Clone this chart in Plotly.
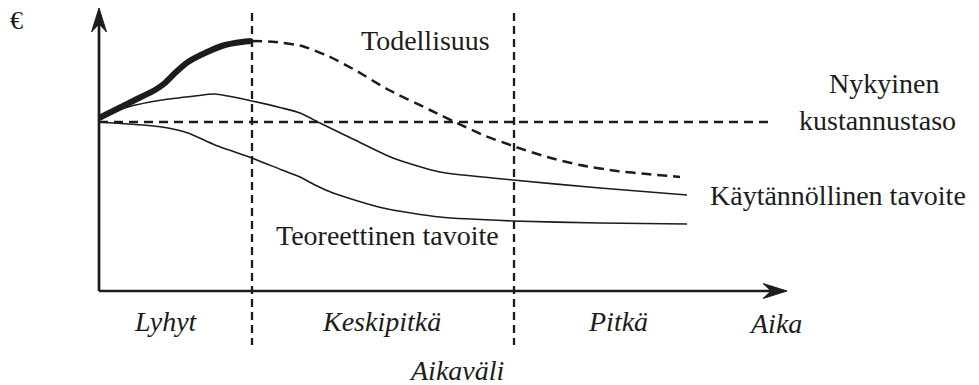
import plotly.graph_objects as go

# ---- data (x = time units from the origin, y = cost units above the time axis) ----
actual_solid_x = [0, 16, 36, 56, 66, 76, 89, 106, 126, 143, 153]
actual_solid_y = [173, 181, 191, 201, 208, 218, 229, 238, 246, 249, 250]

actual_dash_x = [153, 176, 203, 229, 256, 288, 331, 358, 384, 414, 448, 481, 518, 548, 581]
actual_dash_y = [250, 249, 245, 235, 221, 202, 181, 168, 156, 145, 134, 126, 120, 117, 114]

practical_x = [0, 29, 63, 96, 116, 153, 183, 201, 221, 256, 294, 341, 414, 501, 588]
practical_y = [173, 184, 191, 195, 197, 190, 183, 178, 168, 151, 133, 119, 111, 103, 96]

theoretical_x = [0, 29, 63, 89, 116, 153, 183, 201, 216, 234, 284, 341, 414, 501, 588]
theoretical_y = [169, 167, 164, 158, 146, 133, 121, 114, 106, 98, 83, 74, 70, 68, 67]

current_level_x = [0, 674]
current_level_y = [169, 169]

period_bounds = [153, 415]
period_top, period_bottom = 278, -54

x_axis_end = 688
y_axis_end = 283

period_labels = ["Lyhyt", "Keskipitkä", "Pitkä"]
period_label_x = [67, 282, 519]

INK = "#1c1c1c"
FONT = "Liberation Serif, Tinos, Times New Roman, serif"
FS = 28

fig = go.Figure()

# current cost level (horizontal dashed)
fig.add_trace(go.Scatter(x=current_level_x, y=current_level_y, mode="lines",
                         line=dict(color=INK, width=2.3, dash="9px,6px")))
# period boundaries
for xb in period_bounds:
    fig.add_trace(go.Scatter(x=[xb, xb], y=[period_top, period_bottom], mode="lines",
                             line=dict(color=INK, width=2.3, dash="8px,5px")))
# theoretical target
fig.add_trace(go.Scatter(x=theoretical_x, y=theoretical_y, mode="lines",
                         line=dict(color=INK, width=1.6, shape="spline", smoothing=0.6)))
# practical target
fig.add_trace(go.Scatter(x=practical_x, y=practical_y, mode="lines",
                         line=dict(color=INK, width=1.6, shape="spline", smoothing=0.6)))
# reality: dashed forecast
fig.add_trace(go.Scatter(x=actual_dash_x, y=actual_dash_y, mode="lines",
                         line=dict(color=INK, width=2.5, dash="10px,6px", shape="spline", smoothing=0.6)))
# reality: realised (bold)
fig.add_trace(go.Scatter(x=actual_solid_x, y=actual_solid_y, mode="lines",
                         line=dict(color=INK, width=6, shape="spline", smoothing=0.6)))

# axes
fig.add_trace(go.Scatter(x=[0, 0], y=[0, y_axis_end - 12], mode="lines",
                         line=dict(color=INK, width=2.7)))
fig.add_trace(go.Scatter(x=[0, x_axis_end - 12], y=[0, 0], mode="lines",
                         line=dict(color=INK, width=2.7)))

# arrowheads (concave), built from the axis ends
L, W, N = 24, 7.5, 8
ye = y_axis_end
xe = x_axis_end
shapes = [
    dict(type="path", xref="x", yref="y",
         path=f"M 0 {ye} L {-W} {ye - L} L 0 {ye - L + N} L {W} {ye - L} Z",
         fillcolor=INK, line=dict(color=INK, width=1)),
    dict(type="path", xref="x", yref="y",
         path=f"M {xe} 0 L {xe - L} {W} L {xe - L + N} 0 L {xe - L} {-W} Z",
         fillcolor=INK, line=dict(color=INK, width=1)),
]

ann = []
def txt(x, y, parts, size=FS, italic=False):
    if isinstance(parts, str):
        parts = [parts]
    spans = "".join(f"<span style='color:{INK}'>{p}</span>" for p in parts)
    body = f"<i>{spans}</i>" if italic else spans
    ann.append(dict(x=x, y=y, xref="x", yref="y",
                    text=body, showarrow=False,
                    font=dict(family=FONT, size=size),
                    xanchor="center", yanchor="middle"))

txt(-83, 271, "€", size=26)
txt(326, 251, "Todellisuus")
txt(785, 208, "Nykyinen")
txt(778, 171, ["kustannust", "aso"])
txt(739, 96, ["Käytännöllinen t", "avoite"])
txt(288, 56, ["Teoreettinen t", "avoite"])
for lab, lx in zip(period_labels, period_label_x):
    txt(lx, -30, lab, italic=True)
txt(676, -32, "Aika", italic=True)
txt(357, -79, "Aikaväli", italic=True)

fig.update_layout(
    width=979, height=385,
    margin=dict(l=0, r=0, t=0, b=0),
    paper_bgcolor="white", plot_bgcolor="white",
    showlegend=False,
    shapes=shapes, annotations=ann,
    xaxis=dict(range=[-99, 880], visible=False),
    yaxis=dict(range=[-94, 291], visible=False),
)

post = (
    "document.body.style.margin='0';"
    "var gd=document.getElementById('{plot_id}');"
    "Promise.all([document.fonts.load(\"28px 'Liberation Serif'\"),"
    "document.fonts.load(\"italic 28px 'Liberation Serif'\")])"
    ".then(function(){Plotly.redraw(gd);});"
)
fig.write_html("out.html", config={"displayModeBar": False}, post_script=post)
